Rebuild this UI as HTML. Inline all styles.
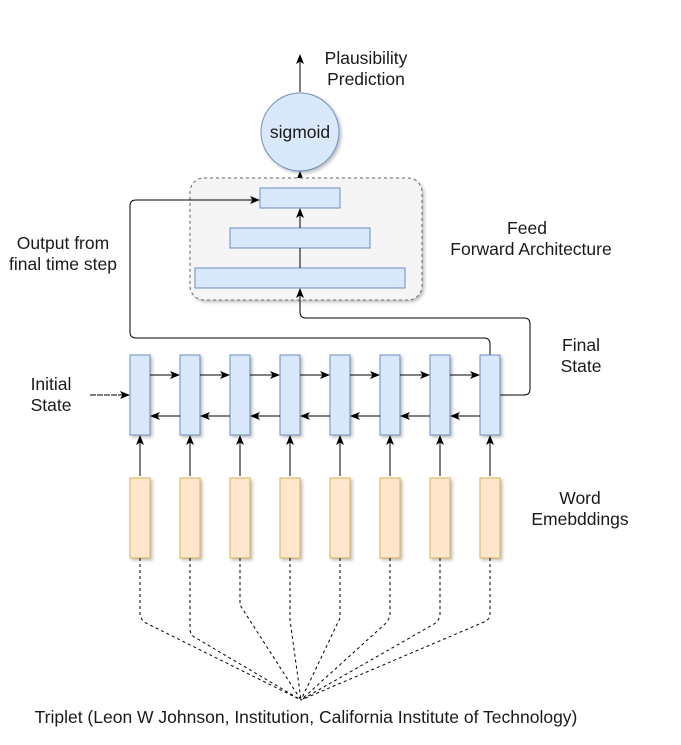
<!DOCTYPE html>
<html><head><meta charset="utf-8"><style>
html,body{margin:0;padding:0;background:#fff;}
svg{display:block;}
text{font-family:"Liberation Sans",Arial,sans-serif;font-size:17.5px;fill:#1a1a1a;}
</style></head><body>
<svg width="681" height="745" viewBox="0 0 681 745" xmlns="http://www.w3.org/2000/svg">
<defs>
<marker id="a" markerWidth="10" markerHeight="10" refX="9" refY="5" orient="auto" markerUnits="userSpaceOnUse">
<path d="M0,1 L10,5 L0,9 L2.5,5 Z" fill="#000"/></marker>
<filter id="s" x="-10%" y="-10%" width="130%" height="130%"><feDropShadow dx="2" dy="2" stdDeviation="1.5" flood-opacity="0.25"/></filter>
</defs>
<line x1="300" y1="92" x2="300" y2="55" stroke="#000" marker-end="url(#a)"/>
<text x="366" y="64" text-anchor="middle">Plausibility</text>
<text x="366" y="85" text-anchor="middle">Prediction</text>
<circle cx="300" cy="132" r="39" fill="#dae8fc" stroke="#6c8ebf" filter="url(#s)"/>
<text x="300" y="138" text-anchor="middle">sigmoid</text>
<line x1="300" y1="186" x2="300" y2="172" stroke="#000" marker-end="url(#a)"/>
<rect x="190" y="178" width="232" height="122" rx="14" fill="#f5f5f5" stroke="#666" stroke-dasharray="3,3" filter="url(#s)"/>
<rect x="260" y="188" width="80" height="20" fill="#dae8fc" stroke="#6c8ebf"/>
<rect x="230" y="228" width="140" height="20" fill="#dae8fc" stroke="#6c8ebf"/>
<rect x="195" y="268" width="210" height="20" fill="#dae8fc" stroke="#6c8ebf"/>
<line x1="300" y1="228" x2="300" y2="209" stroke="#000" marker-end="url(#a)"/>
<line x1="300" y1="268" x2="300" y2="248" stroke="#000"/>
<text x="527" y="234" text-anchor="middle">Feed</text>
<text x="531" y="255" text-anchor="middle">Forward Architecture</text>
<text x="63" y="249" text-anchor="middle">Output from</text>
<text x="63" y="270" text-anchor="middle">final time step</text>
<path d="M490,355 L490,344 Q490,338 484,338 L136,338 Q130,338 130,332 L130,206 Q130,200 136,200 L259,200" fill="none" stroke="#000" marker-end="url(#a)"/>
<path d="M500,395 L524,395 Q530,395 530,389 L530,324 Q530,318 524,318 L306,318 Q300,318 300,312 L300,289" fill="none" stroke="#000" marker-end="url(#a)"/>
<text x="581" y="351" text-anchor="middle">Final</text>
<text x="581" y="372" text-anchor="middle">State</text>
<text x="51" y="390" text-anchor="middle">Initial</text>
<text x="51" y="411" text-anchor="middle">State</text>
<line x1="90" y1="395" x2="129" y2="395" stroke="#000" stroke-dasharray="6,1" marker-end="url(#a)"/>
<text x="580" y="504" text-anchor="middle">Word</text>
<text x="580" y="525" text-anchor="middle">Emebddings</text>
<g fill="#dae8fc" stroke="#6c8ebf" filter="url(#s)">
<rect x="130" y="355" width="20" height="80"/><rect x="180" y="355" width="20" height="80"/><rect x="230" y="355" width="20" height="80"/><rect x="280" y="355" width="20" height="80"/><rect x="330" y="355" width="20" height="80"/><rect x="380" y="355" width="20" height="80"/><rect x="430" y="355" width="20" height="80"/><rect x="480" y="355" width="20" height="80"/>
</g>
<g fill="#ffe6cc" stroke="#d6b656" filter="url(#s)">
<rect x="130" y="478" width="20" height="80"/><rect x="180" y="478" width="20" height="80"/><rect x="230" y="478" width="20" height="80"/><rect x="280" y="478" width="20" height="80"/><rect x="330" y="478" width="20" height="80"/><rect x="380" y="478" width="20" height="80"/><rect x="430" y="478" width="20" height="80"/><rect x="480" y="478" width="20" height="80"/>
</g>
<g stroke="#000" fill="none">
<line x1="150" y1="375" x2="179" y2="375" marker-end="url(#a)"/><line x1="200" y1="375" x2="229" y2="375" marker-end="url(#a)"/><line x1="250" y1="375" x2="279" y2="375" marker-end="url(#a)"/><line x1="300" y1="375" x2="329" y2="375" marker-end="url(#a)"/><line x1="350" y1="375" x2="379" y2="375" marker-end="url(#a)"/><line x1="400" y1="375" x2="429" y2="375" marker-end="url(#a)"/><line x1="450" y1="375" x2="479" y2="375" marker-end="url(#a)"/>
<line x1="180" y1="416" x2="151" y2="416" marker-end="url(#a)"/><line x1="230" y1="416" x2="201" y2="416" marker-end="url(#a)"/><line x1="280" y1="416" x2="251" y2="416" marker-end="url(#a)"/><line x1="330" y1="416" x2="301" y2="416" marker-end="url(#a)"/><line x1="380" y1="416" x2="351" y2="416" marker-end="url(#a)"/><line x1="430" y1="416" x2="401" y2="416" marker-end="url(#a)"/><line x1="480" y1="416" x2="451" y2="416" marker-end="url(#a)"/>
<line x1="140" y1="476" x2="140" y2="436" marker-end="url(#a)"/><line x1="190" y1="476" x2="190" y2="436" marker-end="url(#a)"/><line x1="240" y1="476" x2="240" y2="436" marker-end="url(#a)"/><line x1="290" y1="476" x2="290" y2="436" marker-end="url(#a)"/><line x1="340" y1="476" x2="340" y2="436" marker-end="url(#a)"/><line x1="390" y1="476" x2="390" y2="436" marker-end="url(#a)"/><line x1="440" y1="476" x2="440" y2="436" marker-end="url(#a)"/><line x1="490" y1="476" x2="490" y2="436" marker-end="url(#a)"/>
</g>
<g stroke="#000" fill="none" stroke-dasharray="3,3">
<path d="M140,558 L140,615 Q141,620 146,623 L301,700"/>
<path d="M190,558 L190,630 Q191,636 196,638 L301,700"/>
<path d="M240,558 L240,605 L301,700"/>
<path d="M290,558 L290,620 L301,700"/>
<path d="M340,558 L340,618 L301,700"/>
<path d="M390,558 L390,615 Q389,620 385,624 L301,700"/>
<path d="M440,558 L440,615 Q439,621 434,624 L301,700"/>
<path d="M490,558 L490,615 Q489,620 484,622 L301,700"/>
</g>
<text x="306" y="723" text-anchor="middle">Triplet (Leon W Johnson, Institution, California Institute of Technology)</text>
</svg>
</body></html>
